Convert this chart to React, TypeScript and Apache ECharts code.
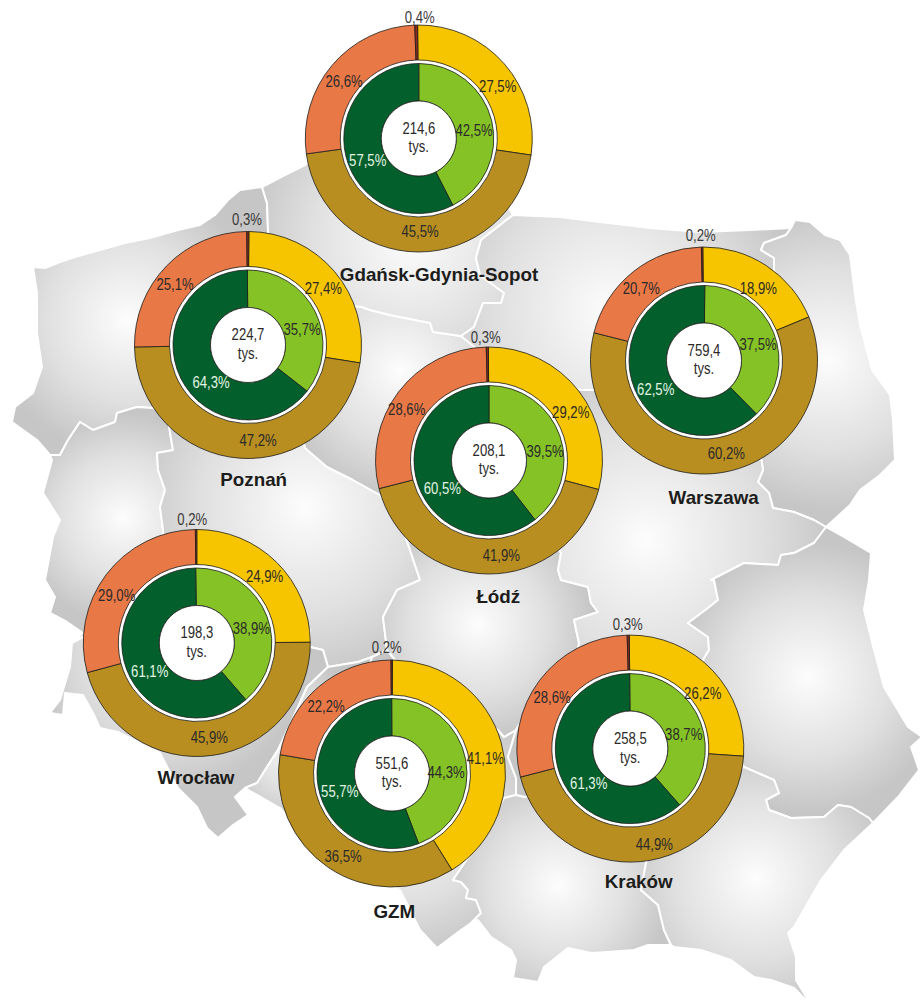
import React, { useEffect, useRef } from "react";
import * as echarts from "echarts";

// ---- data ----
const cities = ["Gdańsk-Gdynia-Sopot", "Poznań", "Warszawa", "Łódź", "Wrocław", "GZM", "Kraków"];
const totals = [214.6, 224.7, 759.4, 208.1, 198.3, 551.6, 258.5];
const outerYellow = [27.5, 27.4, 18.9, 29.2, 24.9, 41.1, 26.2];
const outerBrown = [45.5, 47.2, 60.2, 41.9, 45.9, 36.5, 44.9];
const outerOrange = [26.6, 25.1, 20.7, 28.6, 29.0, 22.2, 28.6];
const outerRed = [0.4, 0.3, 0.2, 0.3, 0.2, 0.2, 0.3];
const innerLight = [42.5, 35.7, 37.5, 39.5, 38.9, 44.3, 38.7];
const innerDark = [57.5, 64.3, 62.5, 60.5, 61.1, 55.7, 61.3];

// ---- layout ----
const centers = [[418.8, 138.5], [248, 345], [704, 360.5], [489, 460.5], [196.8, 643], [392, 773.5], [630.3, 748.6]];
const outerStart = [90.6, 89.55, 90.6, 90.3, 90, 89.8, 90.5];
const innerStart = [90, 90.5, 89.4, 90, 90.85, 90.25, 90.5];
const cityLabelPos = [[439, 275], [253.7, 479.3], [713.7, 497.7], [498.3, 596.7], [196, 777.3], [394.3, 911.7], [638.7, 881.7]];
// yellow, brown, orange, red
const outerLabelPos = [
  [[497.7, 86.7], [420, 232], [344, 81.7], [419.7, 18]],
  [[323.3, 288.3], [258, 440.3], [175, 285], [247, 219.3]],
  [[758.3, 288.3], [726.3, 453.7], [641.3, 288.3], [700.7, 235.7]],
  [[570.7, 412.7], [501.3, 555.3], [406.7, 410], [485.7, 337.7]],
  [[264.5, 577], [209.3, 737.3], [116.7, 595.7], [192.3, 520]],
  [[485.3, 758.7], [343, 856.3], [326, 706.3], [386.7, 647.7]],
  [[702.7, 694], [654.3, 844.3], [552, 697.3], [627.7, 624.3]],
];
// light, dark
const innerLabelPos = [
  [[474, 131], [367.7, 161]],
  [[302, 329.3], [211, 382.3]],
  [[758, 344.3], [655.7, 389.3]],
  [[545, 451.7], [442.3, 489]],
  [[251.3, 629], [149.7, 671.3]],
  [[446, 773], [339.7, 791.7]],
  [[683.7, 734.3], [588.7, 783.3]],
];

const R_OUT = 113.5, R_OUT_IN = 78.5, R_IN = 75, R_HOLE = 37.5;
const LINE = "#1d1d1b";
const TEXT = "#2b2a29";
const FONT = "'Liberation Sans', Arial, sans-serif";

// ---- map backdrop: voivodeship outlines with their gradient centres ----
type Region = { c: number[]; r: number; pts: number[][] };
const regions: Region[] = [
  { c: [127, 320], r: 135, pts: [[33,267],[45,268],[60,262],[75,257],[100,250],[125,243],[150,238],[178,230],[200,225],[215,215],[228,200],[240,190],[262,187],[267,203],[268,230],[268,262],[168,416],[153,408],[137,407],[117,413],[115,422],[93,430],[80,422],[68,440],[60,455],[50,455],[37,440],[12,422],[15,407],[33,393],[42,367],[37,333],[37,293]] },
  { c: [123, 518], r: 105, pts: [[50,455],[60,455],[68,440],[80,422],[93,430],[115,422],[117,413],[137,407],[153,408],[168,416],[170,433],[173,450],[157,453],[158,470],[165,490],[160,507],[163,530],[165,575],[83,637],[72,643],[83,633],[67,622],[50,613],[55,597],[45,580],[53,537],[60,520],[43,493],[52,460]] },
  { c: [305, 507], r: 175, pts: [[268,262],[300,300],[290,380],[305,448],[327,467],[353,480],[380,495],[400,520],[420,580],[397,590],[383,617],[387,650],[372,657],[358,662],[328,667],[323,650],[310,647],[310,630],[165,575],[163,530],[160,507],[165,490],[158,470],[157,453],[173,450],[170,433],[168,416]] },
  { c: [170, 655], r: 135, pts: [[72,643],[83,637],[165,575],[310,630],[310,647],[323,650],[328,667],[307,687],[290,725],[278,750],[267,767],[257,783],[245,788],[235,797],[248,815],[233,825],[218,838],[207,828],[197,807],[178,788],[160,753],[118,732],[100,728],[93,713],[83,695],[65,693],[63,715],[50,713],[60,700],[70,667]] },
  { c: [300, 745], r: 80, pts: [[245,788],[257,783],[267,767],[278,750],[290,725],[307,687],[328,667],[358,662],[372,657],[360,700],[330,760],[305,835],[280,808]] },
  { c: [400, 815], r: 145, pts: [[372,657],[387,650],[420,690],[470,710],[498,730],[504,737],[516,730],[508,757],[516,778],[516,795],[504,798],[480,840],[453,880],[461,882],[468,890],[466,898],[476,900],[481,913],[471,923],[461,930],[437,948],[420,930],[400,890],[350,870],[305,835],[330,760],[360,700]] },
  { c: [478, 625], r: 115, pts: [[400,520],[500,530],[540,520],[561,553],[558,570],[561,580],[588,587],[591,603],[598,612],[574,620],[579,643],[575,670],[540,690],[516,730],[504,737],[498,730],[470,710],[420,690],[387,650],[383,617],[397,590],[420,580]] },
  { c: [400, 370], r: 125, pts: [[300,300],[362,307],[370,310],[390,315],[430,323],[433,332],[461,336],[478,350],[520,380],[530,450],[540,520],[500,530],[400,520],[380,495],[353,480],[327,467],[305,448],[290,380]] },
  { c: [410, 240], r: 165, pts: [[262,187],[285,175],[305,165],[340,140],[480,160],[513,215],[481,240],[476,258],[480,275],[504,293],[501,303],[483,303],[474,327],[461,336],[433,332],[430,323],[390,315],[370,310],[362,307],[300,300],[268,262],[268,230],[267,203]] },
  { c: [610, 310], r: 190, pts: [[513,215],[560,217],[600,222],[650,228],[700,232],[750,230],[791,228],[786,235],[764,243],[761,250],[774,258],[774,267],[775,290],[650,400],[593,390],[581,390],[520,380],[478,350],[461,336],[474,327],[483,303],[501,303],[504,293],[480,275],[476,258],[481,240]] },
  { c: [828, 360], r: 150, pts: [[791,228],[795,220],[810,222],[825,235],[840,240],[850,255],[852,270],[855,295],[860,325],[872,370],[890,395],[893,420],[895,460],[880,475],[860,490],[850,505],[826,527],[814,520],[794,512],[773,508],[769,493],[758,482],[763,470],[761,457],[790,400],[775,290],[774,267],[774,258],[761,250],[764,243],[786,235]] },
  { c: [646, 540], r: 190, pts: [[520,380],[581,390],[593,390],[650,400],[775,290],[790,400],[761,457],[763,470],[758,482],[769,493],[773,508],[794,512],[814,520],[826,527],[814,543],[794,553],[781,555],[778,565],[744,563],[711,580],[714,580],[718,600],[708,608],[688,623],[708,637],[709,650],[703,660],[690,690],[630,680],[575,670],[579,643],[574,620],[598,612],[591,603],[588,587],[561,580],[558,570],[561,553],[540,520],[530,450]] },
  { c: [808, 677], r: 135, pts: [[826,527],[844,537],[871,553],[869,580],[864,610],[874,650],[884,687],[908,727],[922,737],[911,747],[919,770],[898,797],[873,823],[869,818],[851,807],[838,805],[824,817],[791,818],[769,810],[766,800],[779,793],[774,780],[744,767],[690,690],[703,660],[709,650],[708,637],[688,623],[708,608],[718,600],[714,580],[711,580],[744,563],[778,565],[781,555],[794,553],[814,543]] },
  { c: [640, 720], r: 130, pts: [[575,670],[630,680],[690,690],[744,767],[700,790],[650,850],[640,800],[580,790],[524,797],[516,795],[516,778],[508,757],[516,730],[540,690]] },
  { c: [558, 885], r: 115, pts: [[504,798],[516,795],[524,797],[580,790],[640,800],[650,850],[646,863],[641,890],[658,905],[664,930],[671,945],[669,945],[648,945],[634,950],[608,952],[591,953],[568,948],[544,967],[538,982],[513,978],[516,960],[511,950],[491,937],[478,920],[471,923],[481,913],[476,900],[466,898],[468,890],[461,882],[453,880],[480,840]] },
  { c: [756, 878], r: 135, pts: [[646,863],[650,850],[700,790],[744,767],[774,780],[779,793],[766,800],[769,810],[791,818],[824,817],[838,805],[851,807],[869,818],[873,823],[844,850],[821,880],[794,927],[788,933],[796,957],[796,980],[811,1005],[794,988],[771,980],[754,977],[731,960],[701,950],[674,947],[671,945],[664,930],[658,905],[641,890]] },
];

const fmt = (v: number) => v.toFixed(1).replace(".", ",") + "%";
const sliceStyle = (color: string) => ({ color, borderColor: LINE, borderWidth: 0.8 });

const narrowText = (text: string, x: number, y: number, fill: string) => ({
  type: "text",
  z: 100,
  silent: true,
  x,
  y,
  scaleX: 0.82,
  style: {
    text,
    font: `16px ${FONT}`,
    fill,
    textAlign: "center",
    textVerticalAlign: "middle",
  },
});

function buildOption() {
  const series: any[] = [];
  const labels: any[] = [];
  cities.forEach((_, i) => {
    const center = centers[i];
    const base = {
      type: "pie",
      center,
      clockwise: true,
      silent: true,
      avoidLabelOverlap: false,
      label: { show: false },
      labelLine: { show: false },
      emphasis: { disabled: true },
      animation: false,
    };
    series.push({
      ...base,
      radius: [0, R_OUT_IN],
      data: [{ value: 1, name: "tło", itemStyle: { color: "#ffffff" } }],
    });
    series.push({
      ...base,
      radius: [R_OUT_IN, R_OUT],
      startAngle: outerStart[i],
      data: [
        { value: outerYellow[i], name: "a", itemStyle: sliceStyle("#f6c500") },
        { value: outerBrown[i], name: "b", itemStyle: sliceStyle("#b88e20") },
        { value: outerOrange[i], name: "c", itemStyle: sliceStyle("#e97847") },
        { value: outerRed[i], name: "d", itemStyle: sliceStyle("#8e2a1c") },
      ],
    });
    series.push({
      ...base,
      radius: [R_HOLE, R_IN],
      startAngle: innerStart[i],
      data: [
        { value: innerLight[i], name: "e", itemStyle: sliceStyle("#85c226") },
        { value: innerDark[i], name: "f", itemStyle: sliceStyle("#03602c") },
      ],
    });
    series.push({
      ...base,
      radius: [0, R_HOLE],
      data: [{ value: totals[i], name: cities[i], itemStyle: { color: "#ffffff", borderColor: LINE, borderWidth: 0.8 } }],
    });

    const op = outerLabelPos[i];
    const ip = innerLabelPos[i];
    labels.push(narrowText(fmt(outerYellow[i]), op[0][0], op[0][1], TEXT));
    labels.push(narrowText(fmt(outerBrown[i]), op[1][0], op[1][1], TEXT));
    labels.push(narrowText(fmt(outerOrange[i]), op[2][0], op[2][1], TEXT));
    labels.push(narrowText(fmt(outerRed[i]), op[3][0], op[3][1], "#3a3a38"));
    labels.push(narrowText(fmt(innerLight[i]), ip[0][0], ip[0][1], TEXT));
    labels.push(narrowText(fmt(innerDark[i]), ip[1][0], ip[1][1], "#e6f4e4"));
    labels.push(narrowText(totals[i].toFixed(1).replace(".", ","), center[0], center[1] - 10, TEXT));
    labels.push(narrowText("tys.", center[0], center[1] + 8.5, TEXT));
  });

  const graphic: any[] = regions.map((reg) => ({
    type: "polygon",
    z: 0,
    silent: true,
    shape: { points: reg.pts },
    style: {
      fill: {
        type: "radial",
        x: reg.c[0],
        y: reg.c[1],
        r: reg.r,
        global: true,
        colorStops: [
          { offset: 0, color: "#fdfdfd" },
          { offset: 0.15, color: "#f5f5f5" },
          { offset: 0.6, color: "#e0e0e0" },
          { offset: 1, color: "#c6c6c6" },
        ],
      },
      stroke: "#ffffff",
      lineWidth: 2,
      lineJoin: "round",
    },
  }));
  graphic.push(...labels);
  cities.forEach((name, i) => {
    graphic.push({
      type: "text",
      z: 100,
      silent: true,
      x: cityLabelPos[i][0],
      y: cityLabelPos[i][1],
      scaleX: 1.045,
      style: {
        text: name,
        font: `bold 18px ${FONT}`,
        fill: "#1d1d1b",
        textAlign: "center",
        textVerticalAlign: "middle",
      },
    });
  });

  return { animation: false, backgroundColor: "#ffffff", graphic, series };
}

export default function App() {
  const ref = useRef<HTMLDivElement>(null);
  useEffect(() => {
    const chart = echarts.init(ref.current!, undefined, { renderer: "svg" });
    chart.setOption(buildOption() as any);
    return () => chart.dispose();
  }, []);
  return <div ref={ref} style={{ position: "absolute", left: 0, top: 0, width: 922, height: 1005 }} />;
}
